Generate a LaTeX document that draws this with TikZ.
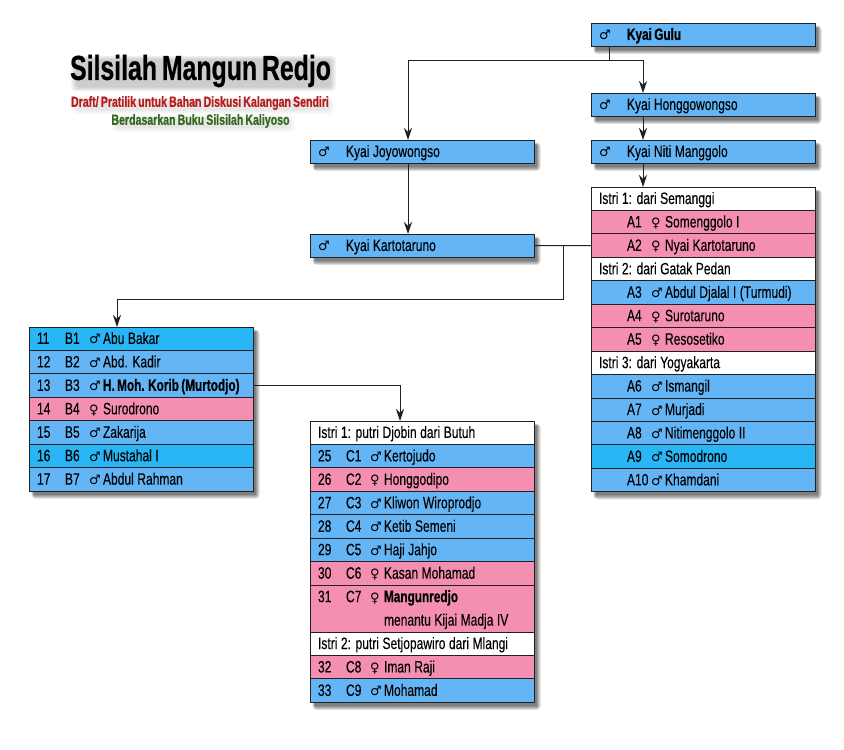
\documentclass[tikz,border=0pt]{standalone}
\usepackage{fontspec}
\setmainfont[FakeStretch=0.73, WordSpace=1.05, FakeBold=0.15, BoldFeatures={FakeBold=0.6, FakeStretch=0.715, WordSpace=0.72}]{Liberation Sans}
\newfontfamily\symfont{DejaVu Sans}
\usetikzlibrary{arrows.meta, positioning, calc, backgrounds}

\definecolor{bluerow}{HTML}{64B5F6}
\definecolor{skyrow}{HTML}{29B6F6}
\definecolor{pinkrow}{HTML}{F48FB1}
\definecolor{linedark}{HTML}{212121}
\definecolor{redtext}{HTML}{B71C1C}
\definecolor{greentext}{HTML}{33691E}

\newcommand{\malesign}{{\symfont\fontsize{13}{13}\selectfont ♂}}
\newcommand{\femalesign}{{\symfont\fontsize{13}{13}\selectfont ♀}}
\newcommand{\rowtext}[4]{\makebox[28pt][l]{#1}\makebox[24pt][l]{#2}\makebox[14pt][l]{#3}\mbox{#4}}
\newcommand{\softshadow}[2]{%
  \foreach \g in {0,1,2,3,4}
    \fill[black, opacity=0.13, rounded corners=\g pt]
      ($(#1.north west)+(5-\g*0.6,5-\g*0.6)$) rectangle ($(#2.south east)+(2.5+\g,3.5+\g)$);
}
\newcommand{\textglow}[2]{%
  \foreach \g in {0,1,2,3,4,5}
    \fill[black, opacity=#2, rounded corners=4pt]
      ($(#1.north west)+(6-\g,5-\g*0.8)$) rectangle ($(#1.south east)+(\g,\g*0.8)$);
}

\begin{document}
\begin{tikzpicture}[
    x=1pt, y=-1pt,
    >={Stealth[length=12pt, width=8pt]},
    rowbox/.style={draw=linedark, line width=1pt, fill=bluerow, outer sep=0pt, inner ysep=0pt, inner xsep=8pt,
        minimum height=23.45pt, text width=208pt, align=flush left, text=black,
        font=\fontsize{16.5}{23.45}\selectfont, text height=13pt, text depth=2.5pt},
    skybox/.style={rowbox, fill=skyrow},
    pinkbox/.style={rowbox, fill=pinkrow},
    wifebox/.style={rowbox, fill=white},
    flow/.style={->, line width=1pt, draw=linedark},
    flow_plain/.style={line width=1pt, draw=linedark},
    titletext/.style={font=\fontsize{34.7}{40}\selectfont\bfseries, inner sep=0pt},
    subtext/.style={font=\fontsize{14.8}{16}\selectfont\bfseries, inner sep=0pt}
]
    \useasboundingbox (0,0) rectangle (844,750);

    \node[titletext] (title) at (200.5,71) {Silsilah Mangun Redjo};
    \node[subtext, text=redtext] (draft) at (200,103) {Draft/ Pratilik untuk Bahan Diskusi Kalangan Sendiri};
    \node[subtext, text=greentext] (source) at (200.5,121) {Berdasarkan Buku Silsilah Kaliyoso};

    % ancestors
    \node[rowbox, anchor=north west] (gulu) at (591,23) {\makebox[28pt][l]{\malesign}\textbf{Kyai Gulu}};
    \node[rowbox, anchor=north west] (honggo) at (591,93) {\makebox[28pt][l]{\malesign}Kyai Honggowongso};
    \node[rowbox, anchor=north west] (niti) at (591,140) {\makebox[28pt][l]{\malesign}Kyai Niti Manggolo};
    \node[rowbox, anchor=north west] (joyo) at (310,140) {\makebox[28pt][l]{\malesign}Kyai Joyowongso};
    \node[rowbox, anchor=north west] (karto) at (310,234) {\makebox[28pt][l]{\malesign}Kyai Kartotaruno};

    % table A
    \node[wifebox, anchor=north west] (istri_a1) at (591,187) {Istri 1: dari Semanggi};
    \node[pinkbox, below=0pt of istri_a1] (a1) {\rowtext{}{A1}{\femalesign}{Somenggolo I}};
    \node[pinkbox, below=0pt of a1] (a2) {\rowtext{}{A2}{\femalesign}{Nyai Kartotaruno}};
    \node[wifebox, below=0pt of a2] (istri_a2) {Istri 2: dari Gatak Pedan};
    \node[rowbox, below=0pt of istri_a2] (a3) {\rowtext{}{A3}{\malesign}{Abdul Djalal I (Turmudi)}};
    \node[pinkbox, below=0pt of a3] (a4) {\rowtext{}{A4}{\femalesign}{Surotaruno}};
    \node[pinkbox, below=0pt of a4] (a5) {\rowtext{}{A5}{\femalesign}{Resosetiko}};
    \node[wifebox, below=0pt of a5] (istri_a3) {Istri 3: dari Yogyakarta};
    \node[rowbox, below=0pt of istri_a3] (a6) {\rowtext{}{A6}{\malesign}{Ismangil}};
    \node[rowbox, below=0pt of a6] (a7) {\rowtext{}{A7}{\malesign}{Murjadi}};
    \node[rowbox, below=0pt of a7] (a8) {\rowtext{}{A8}{\malesign}{Nitimenggolo II}};
    \node[skybox, below=0pt of a8] (a9) {\rowtext{}{A9}{\malesign}{Somodrono}};
    \node[rowbox, below=0pt of a9] (a10) {\rowtext{}{A10}{\malesign}{Khamdani}};

    % table B
    \node[skybox, anchor=north west] (b1) at (29,327) {\rowtext{11}{B1}{\malesign}{Abu Bakar}};
    \node[rowbox, below=0pt of b1] (b2) {\rowtext{12}{B2}{\malesign}{Abd. Kadir}};
    \node[rowbox, below=0pt of b2] (b3) {\rowtext{13}{B3}{\malesign}{\textbf{H. Moh. Korib (Murtodjo)}}};
    \node[pinkbox, below=0pt of b3] (b4) {\rowtext{14}{B4}{\femalesign}{Surodrono}};
    \node[rowbox, below=0pt of b4] (b5) {\rowtext{15}{B5}{\malesign}{Zakarija}};
    \node[skybox, below=0pt of b5] (b6) {\rowtext{16}{B6}{\malesign}{Mustahal I}};
    \node[rowbox, below=0pt of b6] (b7) {\rowtext{17}{B7}{\malesign}{Abdul Rahman}};

    % table C
    \node[wifebox, anchor=north west] (istri_c1) at (310,421) {Istri 1: putri Djobin dari Butuh};
    \node[rowbox, below=0pt of istri_c1] (c1) {\rowtext{25}{C1}{\malesign}{Kertojudo}};
    \node[pinkbox, below=0pt of c1] (c2) {\rowtext{26}{C2}{\femalesign}{Honggodipo}};
    \node[rowbox, below=0pt of c2] (c3) {\rowtext{27}{C3}{\malesign}{Kliwon Wiroprodjo}};
    \node[rowbox, below=0pt of c3] (c4) {\rowtext{28}{C4}{\malesign}{Ketib Semeni}};
    \node[rowbox, below=0pt of c4] (c5) {\rowtext{29}{C5}{\malesign}{Haji Jahjo}};
    \node[pinkbox, below=0pt of c5] (c6) {\rowtext{30}{C6}{\femalesign}{Kasan Mohamad}};
    \node[pinkbox, below=0pt of c6, text height=17pt, text depth=29.9pt] (c7) {\rowtext{31}{C7}{\femalesign}{\textbf{Mangunredjo}}\\\hspace*{66pt}menantu Kijai Madja IV};
    \node[wifebox, below=0pt of c7] (istri_c2) {Istri 2: putri Setjopawiro dari Mlangi};
    \node[pinkbox, below=0pt of istri_c2] (c8) {\rowtext{32}{C8}{\femalesign}{Iman Raji}};
    \node[rowbox, below=0pt of c8] (c9) {\rowtext{33}{C9}{\malesign}{Mohamad}};

    % connectors
    \coordinate (gulu_out) at ($(gulu.south west)+(18,0)$);
    \coordinate (gulu_bus) at ($(gulu_out)+(0,14)$);
    \coordinate (honggo_in) at ($(honggo.north west)+(52,0)$);
    \coordinate (niti_in) at ($(niti.north west)+(52,0)$);
    \coordinate (istri_in) at ($(istri_a1.north west)+(52,0)$);
    \coordinate (joyo_in) at ($(joyo.north west)+(98,0)$);
    \coordinate (karto_in) at ($(karto.north west)+(98,0)$);
    \coordinate (karto_split) at ($(karto.east)+(29,0)$);
    \coordinate (karto_bus) at ($(karto_split)+(0,54)$);
    \coordinate (b1_in) at ($(b1.north west)+(88,0)$);
    \coordinate (istri_c_in) at ($(istri_c1.north west)+(90,0)$);

    \draw[flow_plain] (gulu_out) -- (gulu_bus);
    \draw[flow] (gulu_bus) -| (joyo_in);
    \draw[flow] (gulu_bus) -| (honggo_in);
    \draw[flow] (honggo_in |- honggo.south) -- (niti_in);
    \draw[flow] (niti_in |- niti.south) -- (istri_in);
    \draw[flow] (joyo_in |- joyo.south) -- (karto_in);
    \draw[flow_plain] (karto.east) -- (a2.west);
    \draw[flow_plain] (karto_split) -- (karto_bus);
    \draw[flow] (karto_bus) -| (b1_in);
    \draw[flow] (b3.east) -| (istri_c_in);

    % shadows
    \begin{scope}[on background layer]
      \textglow{title}{0.035}
      \textglow{draft}{0.015}
      \textglow{source}{0.015}
      \softshadow{gulu}{gulu}
      \softshadow{honggo}{honggo}
      \softshadow{niti}{niti}
      \softshadow{joyo}{joyo}
      \softshadow{karto}{karto}
      \softshadow{istri_a1}{a10}
      \softshadow{b1}{b7}
      \softshadow{istri_c1}{c9}
    \end{scope}
\end{tikzpicture}
\end{document}
